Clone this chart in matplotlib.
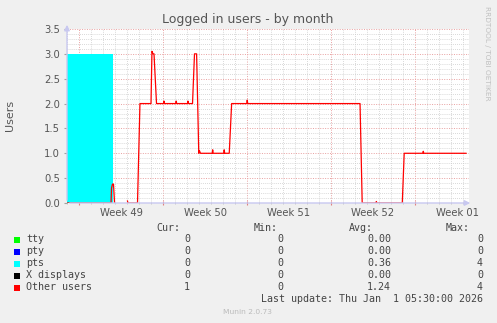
import matplotlib
matplotlib.use("Agg")
import matplotlib.pyplot as plt
import matplotlib.transforms as mtransforms
from matplotlib.patches import Rectangle
import numpy as np

# time axis: days since Nov 30 00:00 (left edge of the plot)
week_starts = [1, 8, 15, 22, 29]
week_labels = ["Week 49", "Week 50", "Week 51", "Week 52", "Week 01"]

# pts (cyan area)
pts_days = [0.0, 3.81]
pts_vals = [3.0, 3.0]

# Other users (red line), NaN = no data
other_days = [0.0, 3.67, 3.71, 3.79, 3.875, 3.96, 4.0,
              5.04, 5.08, 5.875, 6.08, 7.0, 7.08, 7.17, 7.25, 7.46,
              8.04, 8.08, 8.12, 9.06, 9.1, 9.14, 10.04, 10.08, 10.12,
              10.46, 10.625, 10.8, 10.98, 11.04, 11.125,
              12.1, 12.14, 12.18, 13.06, 13.1, 13.14, 13.52, 13.72,
              14.98, 15.02, 15.06, 24.42, 24.6,
              25.74, 25.78, 25.82, 27.94, 28.1,
              29.65, 29.69, 29.73, 33.25]
other_vals = [0.0, 0.0, 0.3, 0.38, 0.38, 0.0, np.nan,
              0.04, 0.0, 0.0, 2.0, 2.0, 3.05, 3.0, 3.0, 2.0,
              2.0, 2.05, 2.0, 2.0, 2.05, 2.0, 2.0, 2.05, 2.0,
              2.0, 3.0, 3.0, 1.0, 1.05, 1.0,
              1.0, 1.07, 1.0, 1.0, 1.07, 1.0, 1.0, 2.0,
              2.0, 2.07, 2.0, 2.0, 0.0,
              0.0, 0.03, 0.0, 0.0, 1.0,
              1.0, 1.04, 1.0, 1.0]

legend_names = ["tty", "pty", "pts", "X displays", "Other users"]
legend_colors = ["#00FF00", "#0000FF", "#00FFFF", "#000000", "#FF0000"]
cur_vals = ["0", "0", "0", "0", "1"]
min_vals = ["0", "0", "0", "0", "0"]
avg_vals = ["0.00", "0.00", "0.36", "0.00", "1.24"]
max_vals = ["0", "0", "4", "0", "4"]

W, H = 497, 323
TEXT = "#555555"
AXIS = "#C8C8F0"

fig = plt.figure(figsize=(W / 100, H / 100), dpi=100, facecolor="#F0F0F0")
ax = fig.add_axes([67 / W, 1 - 203 / H, 402 / W, 174 / H], facecolor="white")

ax.fill_between(pts_days, pts_vals, 0, color="#00FFFF", linewidth=0, zorder=3)
ax.plot(other_days, other_vals, color="#FF0000", linewidth=0.9, zorder=4)

ax.set_xlim(0, 33.5)
ax.set_ylim(0, 3.5)

ax.set_xticks(week_starts)
ax.set_xticklabels([])
ax.set_xticks(np.arange(0, 34, 1), minor=True)
ax.set_yticks(np.arange(0, 3.51, 0.5))
ax.set_yticklabels([f"{v:.1f}" for v in np.arange(0, 3.51, 0.5)])
ax.set_yticks(np.arange(0, 3.51, 0.1), minor=True)

ax.grid(which="minor", color="#CCCCCC", linestyle=(0, (1, 1.5)), linewidth=0.6, zorder=1)
ax.grid(which="major", color="#E8A0A0", linestyle=(0, (1, 1.5)), linewidth=0.7, zorder=2)
ax.set_axisbelow(True)

ax.tick_params(axis="y", which="major", length=2, color="#A0A0A0", labelsize=7.2,
               labelcolor=TEXT, pad=3)
ax.tick_params(axis="y", which="minor", length=0)
ax.tick_params(axis="x", which="major", length=3, direction="inout", color="#E08080")
ax.tick_params(axis="x", which="minor", length=2, direction="inout", color="#C0C0C0")

for s in ax.spines.values():
    s.set_visible(False)

# axes with arrows
ax.annotate("", xy=(1.01, 0), xytext=(0, 0), xycoords="axes fraction",
            arrowprops=dict(arrowstyle="-|>", color=AXIS, lw=1, mutation_scale=8),
            annotation_clip=False, zorder=5)
ax.annotate("", xy=(0, 1.04), xytext=(0, 0), xycoords="axes fraction",
            arrowprops=dict(arrowstyle="-|>", color=AXIS, lw=1, mutation_scale=8),
            annotation_clip=False, zorder=5)

trans = mtransforms.blended_transform_factory(ax.transData, ax.transAxes)
for ws, lab in zip(week_starts, week_labels):
    ax.text(ws + 3.5, -0.055, lab, transform=trans, ha="center", va="center",
            fontsize=7.2, color=TEXT)

fig.text(248 / W, 1 - 20 / H, "Logged in users - by month", ha="center", va="center",
         fontsize=9, color=TEXT)
fig.text(10 / W, 1 - 115 / H, "Users", rotation=90, ha="center", va="center",
         fontsize=8, color=TEXT)
fig.text(487 / W, 1 - 53 / H, "RRDTOOL / TOBI OETIKER", rotation=270, ha="center",
         va="center", fontsize=5.3, color="#C0C0C0")

# legend block
mono = dict(family="DejaVu Sans Mono", fontsize=7.2, color="#444444")
for x, t in [(180, "Cur:"), (278, "Min:"), (373, "Avg:"), (470, "Max:")]:
    fig.text(x / W, 1 - 228 / H, t, ha="right", va="center", **mono)

for i, name in enumerate(legend_names):
    y = 239.5 + 12 * i
    fig.patches.append(Rectangle((14 / W, 1 - (y + 3) / H), 6 / W, 6 / H,
                                 transform=fig.transFigure, facecolor=legend_colors[i],
                                 edgecolor="none"))
    fig.text(26 / W, 1 - y / H, name, ha="left", va="center", **mono)
    for x, v in [(190, cur_vals[i]), (283, min_vals[i]), (391, avg_vals[i]), (483, max_vals[i])]:
        fig.text(x / W, 1 - y / H, v, ha="right", va="center", **mono)

fig.text(483 / W, 1 - 299 / H, "Last update: Thu Jan  1 05:30:00 2026", ha="right",
         va="center", **mono)
fig.text(247 / W, 1 - 312 / H, "Munin 2.0.73", ha="center", va="center",
         fontsize=5.4, color="#BBBBBB")

fig.savefig("out.png", dpi=100, facecolor=fig.get_facecolor())
